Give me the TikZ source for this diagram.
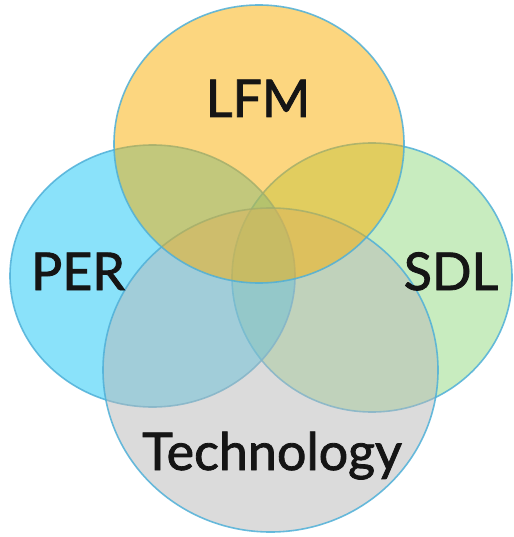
\documentclass[tikz,border=0pt]{standalone}
\usepackage{fontspec}
\setmainfont{Lato}
\newfontfamily\labelfont{Lato}[FakeBold=1.6]
\definecolor{rimblue}{HTML}{4FB0D8}
\definecolor{perfill}{HTML}{17C7F7}
\definecolor{sdlfill}{HTML}{93DB81}
\definecolor{techfill}{HTML}{B9B9B9}
\definecolor{lfmfill}{HTML}{FBAF00}
\definecolor{ink}{HTML}{151515}
\begin{document}
\begin{tikzpicture}[x=1pt,y=-1pt,
  setcircle/.style={draw=rimblue, line width=1.6pt, draw opacity=0.85, fill opacity=0.5},
  setlabel/.style={text=ink, anchor=base, inner sep=0pt, font=\labelfont\fontsize{52}{60}\selectfont}]
  \useasboundingbox[fill=white] (0,0) rectangle (513,537);
  % the four overlapping sets, back to front
  \path[setcircle, fill=sdlfill]  (372,277.5) ellipse [x radius=140, y radius=134.5];
  \path[setcircle, fill=perfill]  (152.5,276) ellipse [x radius=142.5, y radius=131];
  \path[setcircle, fill=techfill] (270.5,370) ellipse [x radius=167.5, y radius=162];
  \path[setcircle, fill=lfmfill]  (259,144) ellipse [x radius=145, y radius=139];
  % labels
  \node[setlabel] (lfm)  at (258,117) {LFM};
  \node[setlabel] (per)  at (78,290)  {PER};
  \node[setlabel] (sdl)  at (451,290) {SDL};
  \node[setlabel] (tech) at (272,470) {Technology};
\end{tikzpicture}
\end{document}
